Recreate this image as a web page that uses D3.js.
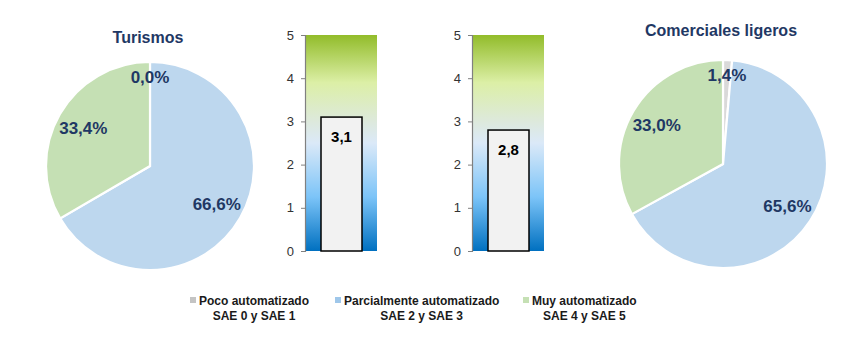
<!DOCTYPE html>
<html><head><meta charset="utf-8">
<script src="https://cdn.jsdelivr.net/npm/d3@7"></script>
<style>body{margin:0;background:#fff;}svg{display:block;}</style>
</head><body>
<script>
// ---- data ----
const categories = ["Poco automatizado", "Parcialmente automatizado", "Muy automatizado"];
const categoriesSub = ["SAE 0 y SAE 1", "SAE 2 y SAE 3", "SAE 4 y SAE 5"];
const pieTitles = ["Turismos", "Comerciales ligeros"];
const turismosValues = [0.0, 66.6, 33.4];
const comercialesValues = [1.4, 65.6, 33.0];
const barValues = [3.1, 2.8];
const barTicks = [0, 1, 2, 3, 4, 5];

const colors = ["#d9d9d9", "#bdd7ee", "#c5e0b4"];
const legendColors = ["#c4c4c4", "#9fc7ea", "#c5e0b4"];
const navy = "#1f3864";
const W = 842, H = 337;
const svg = d3.select("body").append("svg").attr("width", W).attr("height", H);
const fmt = v => v.toFixed(1).replace(".", ",");

// ---- pies ----
const pies = [
  {vals: turismosValues, title: pieTitles[0], cx: 150, cy: 166, r: 104, ty: 43},
  {vals: comercialesValues, title: pieTitles[1], cx: 723, cy: 164, r: 104, ty: 36}
];
const pieGen = d3.pie().sort(null).value(d => d);
pies.forEach(p => {
  const g = svg.append("g").attr("transform", `translate(${p.cx},${p.cy})`);
  const arcs = pieGen(p.vals);
  const arc = d3.arc().innerRadius(0).outerRadius(p.r);
  g.selectAll("path").data(arcs).join("path")
    .attr("d", arc).attr("fill", (d, i) => colors[i])
    .attr("stroke", "#fff").attr("stroke-width", 2.2);
  g.selectAll("text").data(arcs).join("text")
    .attr("transform", d => {
      const small = d.data < 5;
      const rr = small ? p.r * 0.86 : p.r * 0.74;
      const a = (d.startAngle + d.endAngle) / 2;
      return `translate(${rr * Math.sin(a)},${-rr * Math.cos(a)})`;
    })
    .attr("text-anchor", "middle").attr("dy", "0.36em")
    .attr("font-family", "Liberation Sans, Arial, sans-serif")
    .attr("font-weight", "bold").attr("font-size", 17).attr("fill", navy)
    .text(d => fmt(d.data) + "%");
  svg.append("text").attr("x", p.cx - 2).attr("y", p.ty)
    .attr("text-anchor", "middle")
    .attr("font-family", "Liberation Sans, Arial, sans-serif")
    .attr("font-weight", "bold").attr("font-size", 16).attr("fill", navy)
    .text(p.title);
});

// ---- gradient ----
const defs = svg.append("defs");
const grad = defs.append("linearGradient").attr("id", "gr").attr("x1", 0).attr("y1", 0).attr("x2", 0).attr("y2", 1);
[["0%", "#92bc2a"], ["22%", "#dcefa6"], ["40%", "#dde9dc"], ["50%", "#dbe9f8"], ["75%", "#7cc4f8"], ["100%", "#0070c0"]]
  .forEach(s => grad.append("stop").attr("offset", s[0]).attr("stop-color", s[1]));

// ---- bar gauges ----
const gauges = [
  {x0: 305, x1: 377, bx0: 321, bx1: 362},
  {x0: 472, x1: 544, bx0: 488, bx1: 529}
];
const y = d3.scaleLinear().domain([0, 5]).range([251, 35]);
gauges.forEach((gg, i) => {
  svg.append("rect").attr("x", gg.x0).attr("y", y(5)).attr("width", gg.x1 - gg.x0)
    .attr("height", y(0) - y(5)).attr("fill", "url(#gr)");
  const ax = svg.append("g").attr("transform", `translate(${gg.x0},0)`)
    .call(d3.axisLeft(y).tickValues(barTicks).tickSize(4).tickPadding(7).tickFormat(d3.format("d")));
  ax.select(".domain").attr("stroke", "#808080").attr("stroke-width", 1.2);
  ax.selectAll(".tick line").attr("stroke", "#808080");
  ax.selectAll("text").attr("font-family", "Liberation Sans, Arial, sans-serif")
    .attr("font-size", 13).attr("fill", "#333");
  const v = barValues[i];
  svg.append("rect").attr("x", gg.bx0).attr("y", y(v)).attr("width", gg.bx1 - gg.bx0)
    .attr("height", y(0) - y(v)).attr("fill", "#f2f2f2").attr("stroke", "#000").attr("stroke-width", 1.5);
  svg.append("text").attr("x", (gg.bx0 + gg.bx1) / 2).attr("y", y(v) + 25)
    .attr("text-anchor", "middle").attr("font-family", "Liberation Sans, Arial, sans-serif")
    .attr("font-weight", "bold").attr("font-size", 15).attr("fill", "#000")
    .text(fmt(v));
});

// ---- legend ----
const legX = [190, 335, 523];
const leg = svg.append("g");
categories.forEach((c, i) => {
  leg.append("rect").attr("x", legX[i]).attr("y", 297).attr("width", 6).attr("height", 6).attr("fill", legendColors[i]);
  const t = leg.append("text").attr("x", legX[i] + 9).attr("y", 305)
    .attr("font-family", "Liberation Sans, Arial, sans-serif").attr("font-weight", "bold")
    .attr("font-size", 12).attr("fill", "#1a1a1a").text(c);
  const w = t.node().getComputedTextLength();
  leg.append("text").attr("x", legX[i] + 9 + w / 2).attr("y", 320).attr("text-anchor", "middle")
    .attr("font-family", "Liberation Sans, Arial, sans-serif").attr("font-weight", "bold")
    .attr("font-size", 12).attr("fill", "#1a1a1a").text(categoriesSub[i]);
});
</script>
</body></html>
